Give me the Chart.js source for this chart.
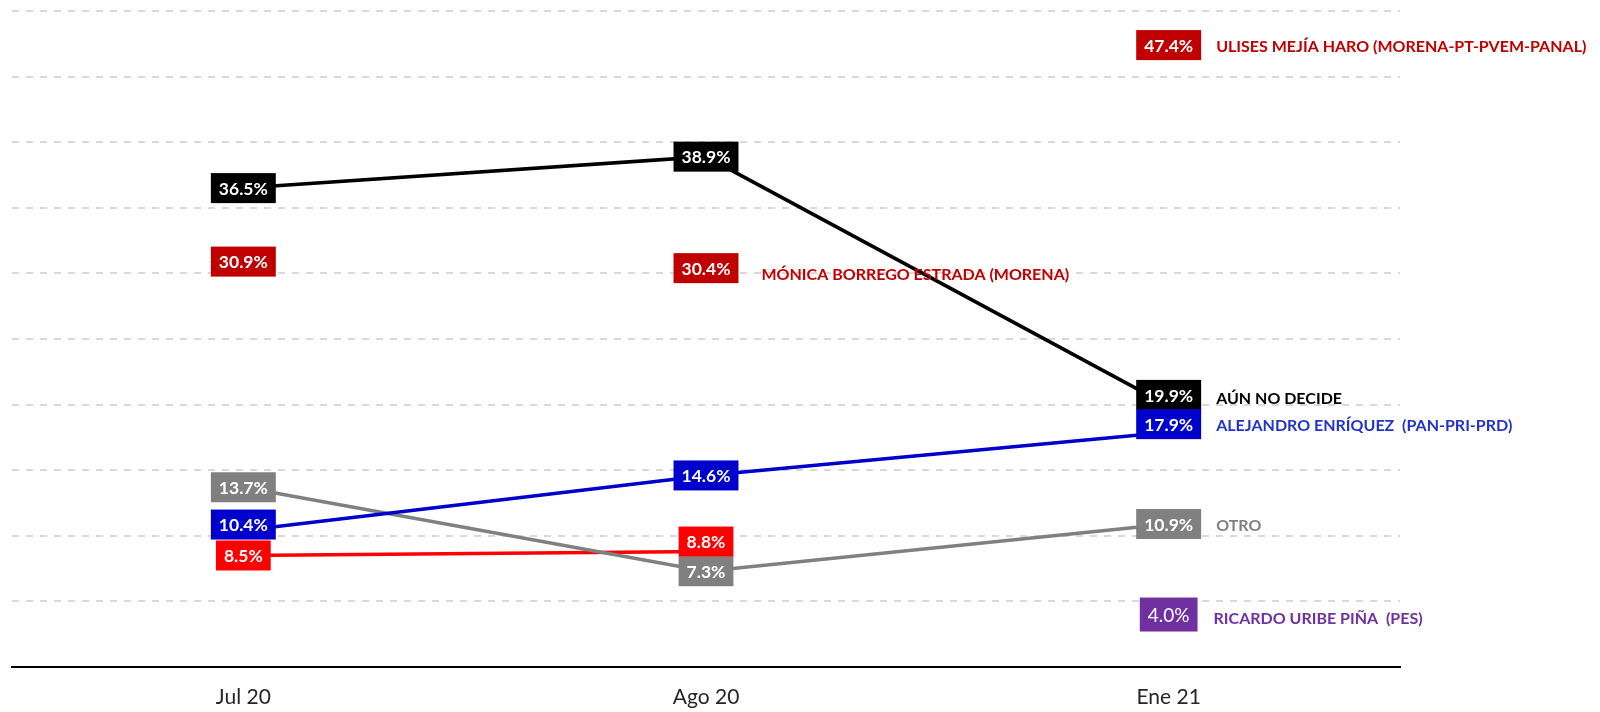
<!DOCTYPE html>
<html lang="es">
<head>
<meta charset="utf-8">
<title>Preferencia electoral</title>
<script src="https://cdn.jsdelivr.net/npm/chart.js@4.4.1/dist/chart.umd.min.js"></script>
<style>
  html, body { margin: 0; padding: 0; background: #fff; }
  #wrap { width: 1600px; height: 712px; }
</style>
</head>
<body>
<div id="wrap"><canvas id="chart" width="1600" height="712"></canvas></div>
<script>
"use strict";
(function () {
  // categories
  const MONTHS = ["Jul 20", "Ago 20", "Ene 21"];
  // series values (%)
  const UNDECIDED = [36.5, 38.9, 19.9];
  const ENRIQUEZ = [10.4, 14.6, 17.9];
  const OTRO = [13.7, 7.3, 10.9];
  const RED_LINE = [8.5, 8.8, null];
  const BORREGO = [30.9, 30.4, null];
  const MEJIA = [null, null, 47.4];
  const URIBE = [null, null, 4.0];
  // y axis range
  const Y_MIN = 0;
  const Y_MAX = 50;
  const Y_STEP = 5;

  const FONT = "Lato, 'Noto Sans', sans-serif";

  window.addEventListener("load", init);

  function init() {
    new Chart(document.getElementById("chart"), {
      type: "line",
      data: {
        labels: MONTHS,
        datasets: [
          series(MEJIA, "#C00000", false, {
            name: "ULISES MEJÍA HARO (MORENA-PT-PVEM-PANAL)", index: 2, gap: 15, dy: 2
          }),
          series(BORREGO, "#C00000", false, {
            name: "MÓNICA BORREGO ESTRADA (MORENA)", index: 1, gap: 23, dy: 7
          }),
          series(UNDECIDED, "#000000", true, {
            name: "AÚN NO DECIDE", index: 2, gap: 15, dy: 4
          }, [0, 0, -11]),
          series(ENRIQUEZ, "#0000CC", true, {
            name: "ALEJANDRO ENRÍQUEZ  (PAN-PRI-PRD)", index: 2, gap: 15, dy: 2, color: "#2233CC"
          }, [-6, 0, -8]),
          series(OTRO, "#808080", true, {
            name: "OTRO", index: 2, gap: 15, dy: 2
          }),
          series(RED_LINE, "#FF0000", true, null, [0, -10, 0]),
          series(URIBE, "#7030A0", false, {
            name: "RICARDO URIBE PIÑA  (PES)", index: 2, gap: 16, dy: 4
          }, null, "normal")
        ]
      },
      options: {
        responsive: false,
        animation: false,
        layout: { padding: { left: 12, right: 200, top: 11, bottom: 0 } },
        plugins: {
          legend: { display: false },
          tooltip: { enabled: false }
        },
        scales: {
          x: {
            offset: true,
            grid: { display: false, drawTicks: false },
            border: { display: true, color: "#000000", width: 2 },
            ticks: {
              padding: 18,
              color: "#262626",
              font: { family: FONT, size: 21 }
            },
            afterFit: s => { s.height = 45; }
          },
          y: {
            min: Y_MIN,
            max: Y_MAX,
            ticks: { display: false, stepSize: Y_STEP },
            border: { display: false, dash: [7, 7] },
            grid: {
              drawTicks: false,
              lineWidth: 2,
              color: c => (c.tick && c.tick.value === Y_MIN) ? "rgba(0,0,0,0)" : "#D9D9D9"
            },
            afterFit: s => { s.width = 0; }
          }
        }
      },
      plugins: [boxLabels]
    });
  }

  function series(values, color, line, tag, shift, weight) {
    return {
      data: values,
      borderColor: color,
      backgroundColor: color,
      borderWidth: 3.5,
      showLine: line,
      pointRadius: 0,
      tension: 0,
      spanGaps: false,
      boxColor: color,
      boxShift: shift || null,
      boxWeight: weight || "bold",
      tag: tag
    };
  }

  // value boxes and series names, placed on the points that the scales give
  const boxLabels = {
    id: "boxLabels",
    afterDatasetsDraw(chart) {
      const ctx = chart.ctx;
      ctx.save();
      chart.data.datasets.forEach((ds, i) => {
        const meta = chart.getDatasetMeta(i);
        meta.data.forEach((pt, j) => {
          const v = ds.data[j];
          if (v === null || v === undefined) {
            return;
          }
          const text = v.toFixed(1) + "%";
          const shift = ds.boxShift ? ds.boxShift[j] : 0;
          const x = pt.x;
          const y = pt.y + shift;
          const big = ds.boxWeight === "normal";
          ctx.font = ds.boxWeight + (big ? " 19px " : " 17.5px ") + FONT;
          const w = ctx.measureText(text).width + 16;
          const h = big ? 34 : 30;
          ctx.fillStyle = ds.boxColor;
          ctx.fillRect(x - w / 2, y - h / 2, w, h);
          ctx.fillStyle = "#FFFFFF";
          ctx.textAlign = "center";
          ctx.textBaseline = "middle";
          ctx.fillText(text, x, y + 1);

          if (ds.tag && ds.tag.index === j) {
            ctx.font = "bold 16px " + FONT;
            ctx.fillStyle = ds.tag.color || ds.boxColor;
            ctx.textAlign = "left";
            ctx.fillText(ds.tag.name, x + w / 2 + ds.tag.gap, y + ds.tag.dy);
          }
        });
      });
      ctx.restore();
    }
  };
})();
</script>
</body>
</html>
